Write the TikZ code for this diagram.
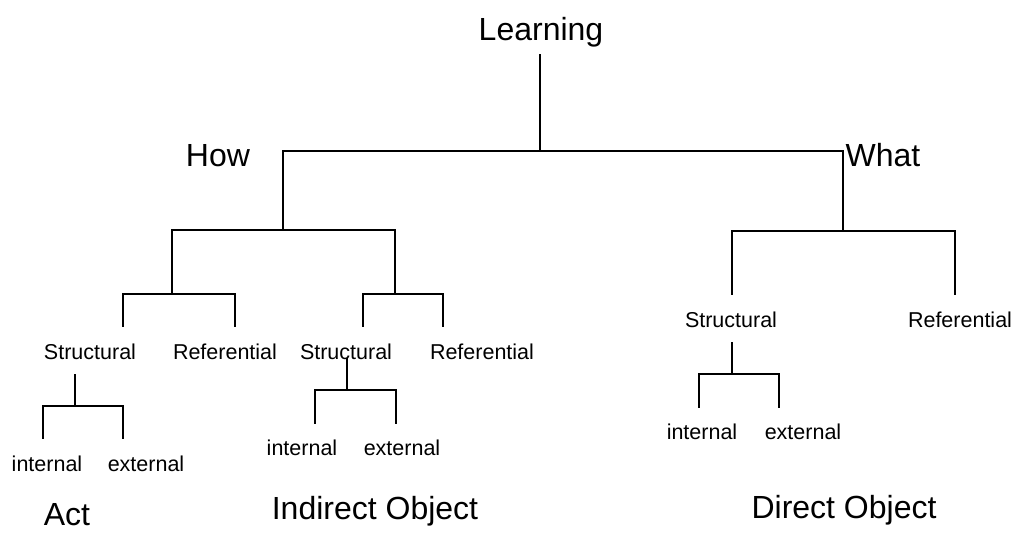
\documentclass[tikz,border=0pt]{standalone}
\usepackage{fontspec}
\setmainfont{Liberation Sans}
\usepackage{tikz}
\usetikzlibrary{calc}

\tikzset{
  big/.style={font=\fontsize{32}{36}\selectfont,inner sep=0pt,anchor=base},
  small/.style={font=\fontsize{21.5}{24}\selectfont,inner sep=0pt,anchor=base},
  tree/.style={line width=1.8pt,line cap=rect},
}
\newcommand{\fork}[3]{\draw[tree] (#2) |- (#1) -| (#3);}

\begin{document}
\begin{tikzpicture}[x=1pt,y=-1pt]
\useasboundingbox (0,0) rectangle (1016,533);
% labels
\node[big] (learn) at (541,40) {Learning};
\node[big] (how) at (218,166) {How};
\node[big] (what) at (883,166) {What};
\node[small] (sL) at (90,359) {Structural};
\node[small] (rL) at (225,359) {Referential};
\node[small] (sM) at (346,359) {Structural};
\node[small] (rM) at (482,359) {Referential};
\node[small] (sR) at (731,327) {Structural};
\node[small] (rR) at (960,327) {Referential};
\node[small] (iL) at (47,471) {internal};
\node[small] (xL) at (146,471) {external};
\node[small] (iM) at (302,455) {internal};
\node[small] (xM) at (402,455) {external};
\node[small] (iR) at (702,439) {internal};
\node[small] (xR) at (803,439) {external};
\node[big] (act) at (67,525) {Act};
\node[big] (indirect) at (375,519) {Indirect Object};
\node[big] (direct) at (844,518) {Direct Object};
% junctions
\coordinate (r) at (540,151);
\coordinate (a1) at (283,230);
\coordinate (a2) at (843,231);
\coordinate (b1) at (172,294);
\coordinate (b2) at (395,294);
\coordinate (b3) at (732,294);
\coordinate (b4) at (955,294);
\coordinate (c1) at (123,326);
\coordinate (c2) at (235,326);
\coordinate (c3) at (363,326);
\coordinate (c4) at (443,326);
\coordinate (d1) at (75,406);
\coordinate (d2) at (347,390);
\coordinate (d3) at (732,374);
\coordinate (e1) at (43,438);
\coordinate (e2) at (123,438);
\coordinate (e3) at (315,423);
\coordinate (e4) at (396,423);
\coordinate (e5) at (699,407);
\coordinate (e6) at (779,407);
% stems
\draw[tree] (learn.south -| r) ++(0,8) -- (r);
\draw[tree] (sL.base -| d1) ++(0,16) -- (d1);
\draw[tree] (sM.base -| d2) -- (d2);
\draw[tree] (sR.base -| d3) ++(0,16) -- (d3);
% forks
\fork{r}{a1}{a2}
\fork{a1}{b1}{b2}
\fork{a2}{b3}{b4}
\fork{b1}{c1}{c2}
\fork{b2}{c3}{c4}
\fork{d1}{e1}{e2}
\fork{d2}{e3}{e4}
\fork{d3}{e5}{e6}
\end{tikzpicture}
\end{document}
